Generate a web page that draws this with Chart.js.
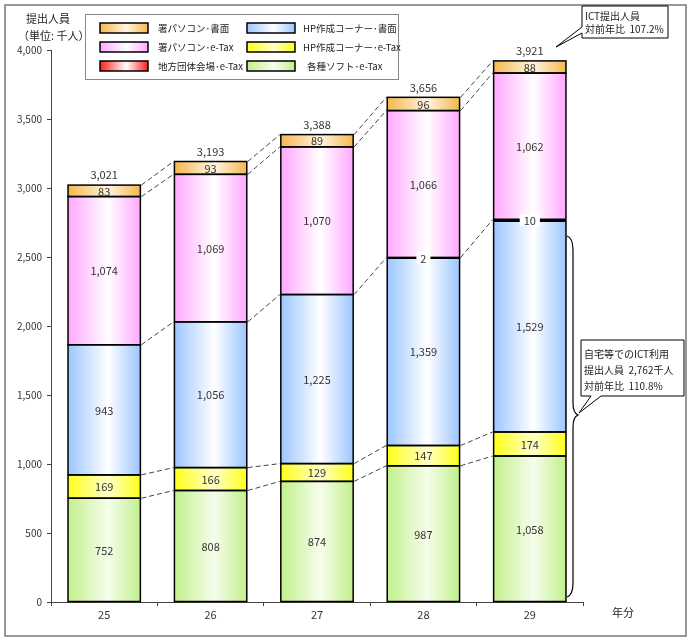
<!DOCTYPE html>
<html><head><meta charset="utf-8">
<script src="https://cdn.jsdelivr.net/npm/chart.js@4"></script>
<style>html,body{margin:0;padding:0;background:#fff}#wrap{width:691px;height:641px}</style>
</head><body><div id="wrap"><canvas id="c" width="691" height="641"></canvas></div>
<script>
const years = ['25','26','27','28','29'];
const softwareEtax = [752, 808, 874, 987, 1058];
const hpEtax = [169, 166, 129, 147, 174];
const hpPaper = [943, 1056, 1225, 1359, 1529];
const localEtax = [null, null, null, 2, 10];
const pcEtax = [1074, 1069, 1070, 1066, 1062];
const pcPaper = [83, 93, 89, 96, 88];
const totals = [3021, 3193, 3388, 3656, 3921];
const seriesNames = ['各種ソフト･e-Tax','HP作成コーナー･e-Tax','HP作成コーナー･書面','地方団体会場･e-Tax','署パソコン･e-Tax','署パソコン･書面'];
const yAxisTitle = ['提出人員','（単位: 千人）'];
const xAxisTitle = '年分';
const callout1 = ['ICT提出人員','対前年比  107.2%'];
const callout2 = ['自宅等でのICT利用','提出人員  2,762千人','対前年比  110.8%'];

const FONT = '"Noto Sans CJK JP", "DejaVu Sans", sans-serif';
const BAR_PCT = 0.68;
const palette = [
  {edge:'#c2f08c', mid:'#f6fdec'},
  {edge:'#ffff1a', mid:'#ffffc8'},
  {edge:'#9cc6ff', mid:'#ffffff'},
  {edge:'#ff2020', mid:'#ffffff'},
  {edge:'#ffa8ff', mid:'#ffffff'},
  {edge:'#f6b84e', mid:'#fff4e2'}
];
function makeGrad(ctx, x0, x1, p){
  const g = ctx.createLinearGradient(x0, 0, x1, 0);
  g.addColorStop(0, p.edge);
  g.addColorStop(0.55, p.mid);
  g.addColorStop(1, p.edge);
  return g;
}
function barBg(i){
  return (c) => {
    if (i === 3) return '#000';
    const ch = c.chart, xs = ch.scales && ch.scales.x;
    if (!xs || c.dataIndex === undefined) return palette[i].edge;
    const cx = xs.getPixelForValue(c.dataIndex);
    const w = xs.width / years.length * BAR_PCT;
    if (!isFinite(cx) || !isFinite(w) || w <= 0) return palette[i].edge;
    return makeGrad(ch.ctx, cx - w/2, cx + w/2, palette[i]);
  };
}
const dataArrays = [softwareEtax, hpEtax, hpPaper, localEtax, pcEtax, pcPaper];
const datasets = dataArrays.map((d, i) => ({
  label: seriesNames[i], data: d, stack: 's',
  backgroundColor: barBg(i), borderWidth: 0,
  barPercentage: BAR_PCT, categoryPercentage: 1
}));
const fmt = v => v.toLocaleString('en-US');

const deco = {
  id: 'deco',
  afterDatasetsDraw(chart){
    const ctx = chart.ctx, xs = chart.scales.x, ys = chart.scales.y;
    const w = xs.width / years.length * BAR_PCT;
    ctx.save();
    // segment outlines
    ctx.strokeStyle = '#000'; ctx.lineWidth = 1.5;
    chart.data.datasets.forEach((ds, di) => {
      const meta = chart.getDatasetMeta(di);
      meta.data.forEach((el, j) => {
        const v = ds.data[j];
        if (v === null || v === undefined) return;
        const p = el.getProps(['x','y','base','width'], true);
        const l = p.x - p.width/2, t = Math.min(p.y, p.base), b = Math.max(p.y, p.base);
        if (di === 3){
          ctx.fillStyle = '#000';
          ctx.fillRect(l, t - 1, p.width, Math.max(b - t, 0) + 2);
        } else {
          ctx.strokeRect(l, t, p.width, b - t);
        }
      });
    });
    const levels = years.map((_, j) => {
      let s = 0; const out = [];
      dataArrays.forEach((arr, i) => { s += (arr[j] || 0); if (i !== 2) out.push(s); });
      return out;
    });
    ctx.strokeStyle = '#444'; ctx.lineWidth = 1; ctx.setLineDash([5,3]);
    for (let j = 0; j < years.length - 1; j++){
      const x0 = xs.getPixelForValue(j) + w/2 + 1, x1 = xs.getPixelForValue(j+1) - w/2 - 1;
      levels[j].forEach((v, k) => {
        ctx.beginPath();
        ctx.moveTo(x0, ys.getPixelForValue(v));
        ctx.lineTo(x1, ys.getPixelForValue(levels[j+1][k]));
        ctx.stroke();
      });
    }
    ctx.setLineDash([]);
    ctx.font = '11px ' + FONT; ctx.textAlign = 'center'; ctx.textBaseline = 'middle';
    for (let j = 0; j < years.length; j++){
      const cx = xs.getPixelForValue(j);
      let s = 0;
      dataArrays.forEach((arr, i) => {
        const v = arr[j];
        if (v === null || v === undefined) return;
        const yc = ys.getPixelForValue(s + v/2);
        s += v;
        const t = fmt(v);
        if (i === 3){
          const tw = ctx.measureText(t).width + 8;
          ctx.fillStyle = '#fff'; ctx.fillRect(cx - tw/2, yc - 6, tw, 12);
        }
        ctx.fillStyle = '#333'; ctx.fillText(t, cx, yc + 0.5);
      });
      ctx.fillStyle = '#333';
      ctx.fillText(fmt(totals[j]), cx, ys.getPixelForValue(s) - 10);
    }
    ctx.restore();
  },
  afterDraw(chart){
    const ctx = chart.ctx;
    ctx.save();
    ctx.strokeStyle = '#777'; ctx.lineWidth = 1.5;
    ctx.strokeRect(5, 5, 681, 631);
    ctx.fillStyle = '#222'; ctx.font = '11px ' + FONT; ctx.textBaseline = 'middle'; ctx.textAlign = 'left';
    ctx.fillText(yAxisTitle[0], 26, 19);
    ctx.fillText(yAxisTitle[1], 18, 36);
    ctx.fillText(xAxisTitle, 612, 613);
    ctx.strokeStyle = '#888'; ctx.lineWidth = 1;
    ctx.strokeRect(85.5, 14.5, 313, 65);
    const order = [5, 2, 4, 1, 3, 0];
    ctx.font = '9.5px ' + FONT;
    order.forEach((di, k) => {
      const col = k % 2, row = Math.floor(k / 2);
      const sx = col === 0 ? 100 : 247, sy = 23 + row * 19;
      ctx.fillStyle = makeGrad(ctx, sx, sx + 48, palette[di]);
      ctx.fillRect(sx, sy, 48, 10);
      ctx.strokeStyle = '#000'; ctx.lineWidth = 1.5; ctx.strokeRect(sx, sy, 48, 10);
      ctx.fillStyle = '#222';
      ctx.fillText(seriesNames[di], col === 0 ? 158 : (di === 0 ? 307 : 303), sy + 5);
    });
    ctx.lineWidth = 1; ctx.strokeStyle = '#000'; ctx.fillStyle = '#fff';
    ctx.beginPath();
    ctx.moveTo(582, 6); ctx.lineTo(668, 6); ctx.lineTo(668, 38); ctx.lineTo(582, 38);
    ctx.lineTo(582, 33); ctx.lineTo(556, 47); ctx.lineTo(582, 27); ctx.closePath();
    ctx.fill(); ctx.stroke();
    ctx.fillStyle = '#222'; ctx.font = '10px ' + FONT;
    ctx.fillText(callout1[0], 585, 16); ctx.fillText(callout1[1], 585, 29);
    ctx.beginPath(); ctx.lineWidth = 1.2;
    const bx = 569, top = 236, bot = 597, mid = 415, tip = 578;
    ctx.moveTo(bx - 2, top);
    ctx.quadraticCurveTo(bx + 4, top + 2, bx + 4, top + 14);
    ctx.lineTo(bx + 4, mid - 12);
    ctx.quadraticCurveTo(bx + 4, mid - 2, tip, mid);
    ctx.quadraticCurveTo(bx + 4, mid + 2, bx + 4, mid + 12);
    ctx.lineTo(bx + 4, bot - 14);
    ctx.quadraticCurveTo(bx + 4, bot - 2, bx - 2, bot);
    ctx.stroke();
    ctx.lineWidth = 1; ctx.fillStyle = '#fff';
    ctx.beginPath();
    ctx.moveTo(581, 340); ctx.lineTo(684, 340); ctx.lineTo(684, 396); ctx.lineTo(601, 396);
    ctx.lineTo(579, 413); ctx.lineTo(591, 396); ctx.lineTo(581, 396); ctx.closePath();
    ctx.fill(); ctx.stroke();
    ctx.fillStyle = '#222'; ctx.font = '10px ' + FONT;
    callout2.forEach((t, k) => ctx.fillText(t, 584, 354 + k * 16));
    ctx.restore();
  }
};

new Chart(document.getElementById('c'), {
  type: 'bar',
  data: { labels: years, datasets },
  options: {
    responsive: false, animation: false,
    layout: { padding: { left: 5, right: 108, top: 50, bottom: 0 } },
    plugins: { legend: { display: false }, tooltip: { enabled: false } },
    scales: {
      x: {
        stacked: true,
        grid: { drawOnChartArea: false, drawTicks: true, tickLength: 4, color: '#444', offset: true },
        border: { display: true, color: '#444', width: 1 },
        ticks: { color: '#333', font: { size: 11, family: FONT }, padding: 2 },
        afterFit(s){ s.height = 39; }
      },
      y: {
        stacked: true, min: 0, max: 4000,
        grid: { drawOnChartArea: false, drawTicks: true, tickLength: 4, color: '#444' },
        border: { display: true, color: '#444', width: 1 },
        ticks: { stepSize: 500, color: '#333', font: { size: 10, family: FONT }, padding: 5,
          callback: v => fmt(v) },
        afterFit(s){ s.width = 46; }
      }
    }
  },
  plugins: [deco]
});
</script>
</body></html>
